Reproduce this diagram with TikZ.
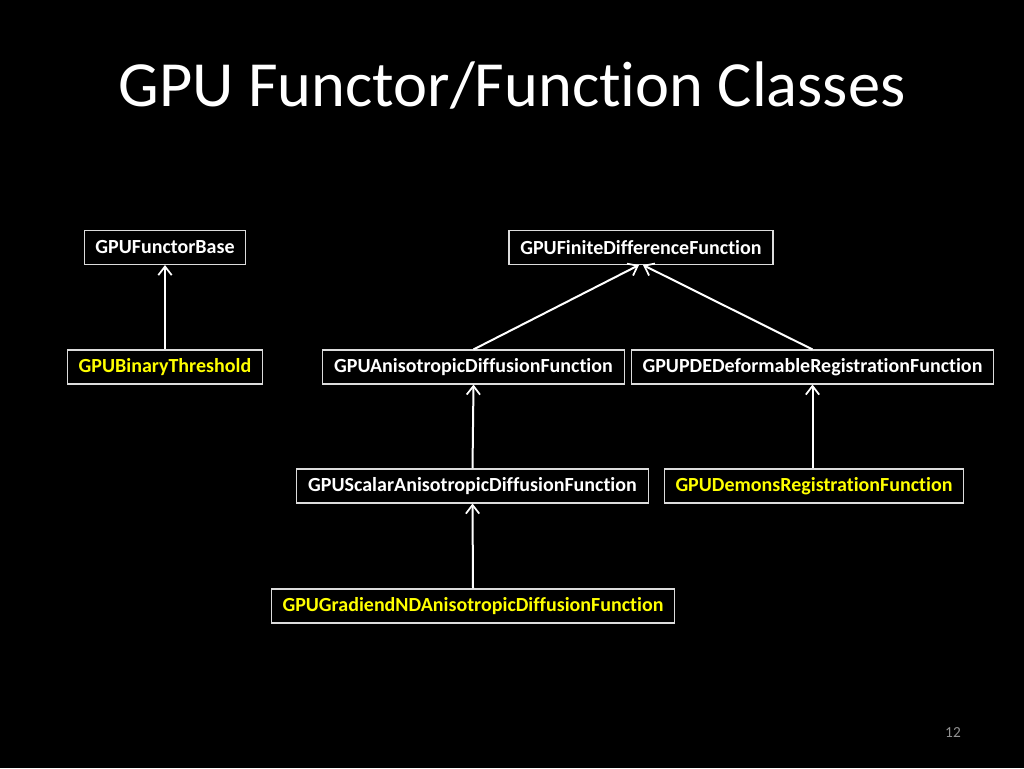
\documentclass[tikz,border=0pt]{standalone}
\usepackage{fontspec}
\setmainfont{Carlito}[Ligatures={NoCommon,NoContextual}]
\usetikzlibrary{arrows.meta}
\definecolor{ylw}{RGB}{255,255,0}
\definecolor{boxline}{RGB}{220,220,220}
\begin{document}
\begin{tikzpicture}[x=0.75pt,y=-0.75pt,
  cls/.style={draw=boxline, line width=0.8pt, fill=black, text=white,
    font=\fontsize{15}{17}\selectfont\bfseries, inner xsep=8.5pt,
    minimum height=25.5pt, anchor=center},
  leaf/.style={cls, text=ylw},
  inh/.style={draw=white, line width=1.5pt, -{Straight Barb[length=6.5pt,width=10pt,line width=1.3pt]}}]
\useasboundingbox[fill=black] (0,0) rectangle (1024,768);
\node[text=white, font=\fontsize{48.3}{54}\selectfont, anchor=base] (title) at (512,106) {GPU Functor/Function Classes};
\node[text=gray!85, font=\fontsize{11.5}{12}\selectfont] (page) at (953,733) {12};

\node[cls] (base) at (165,247.5) {GPUFunctorBase};
\node[leaf] (bin) at (165,367) {GPUBinaryThreshold};
\node[cls] (fdf) at (641,247.5) {GPUFiniteDifferenceFunction};
\node[cls] (aniso) at (473.5,367) {GPUAnisotropicDiffusionFunction};
\node[cls] (pde) at (812.5,367) {GPUPDEDeformableRegistrationFunction};
\node[cls] (scalar) at (472.5,486) {GPUScalarAnisotropicDiffusionFunction};
\node[leaf] (demons) at (814,486) {GPUDemonsRegistrationFunction};
\node[leaf] (grad) at (473,606) {GPUGradiendNDAnisotropicDiffusionFunction};

\draw[inh] (bin.north) -- (base.south);
\draw[inh] (aniso.north) -- ([xshift=-1.5pt]fdf.south);
\draw[inh] (pde.north) -- ([xshift=1.5pt]fdf.south);
\draw[inh] (scalar.north) -- (aniso.south);
\draw[inh] (grad.north) -- (scalar.south);
\draw[inh] (demons.north -| pde.south) -- (pde.south);
\end{tikzpicture}
\end{document}
